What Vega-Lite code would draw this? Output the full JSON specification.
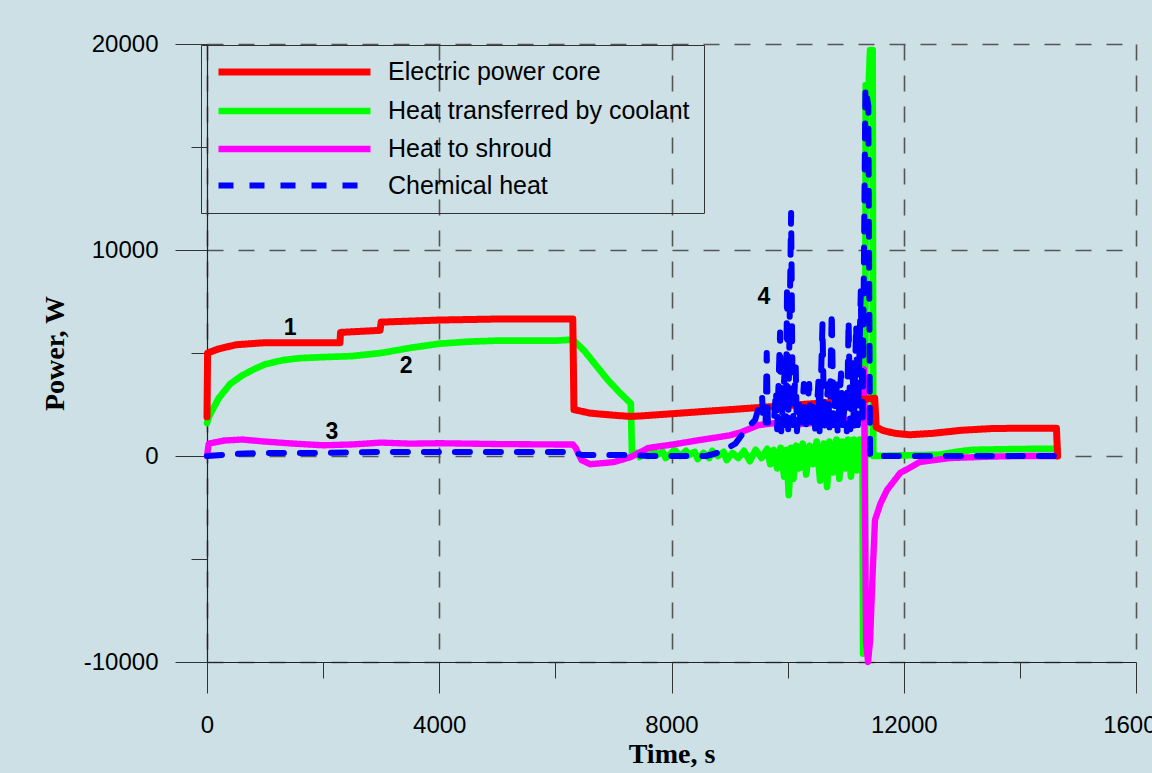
{
  "$schema": "https://vega.github.io/schema/vega-lite/v6.json",
  "width": 929,
  "height": 618,
  "autosize": {"type": "none"},
  "padding": {"left": 207, "top": 44, "right": 16, "bottom": 111},
  "background": "#cde0e6",
  "config": {
    "view": {"stroke": null},
    "font": "Liberation Sans",
    "axis": {"labelFont": "Liberation Sans", "labelColor": "#000000", "tickColor": "#333333", "domainColor": "#222222", "titleColor": "#000000"}
  },
  "datasets": {
    "lines": [
      {"series": "Heat transferred by coolant", "t": 0, "P": 1600},
      {"series": "Heat transferred by coolant", "t": 30, "P": 1900},
      {"series": "Heat transferred by coolant", "t": 200, "P": 2800},
      {"series": "Heat transferred by coolant", "t": 400, "P": 3500},
      {"series": "Heat transferred by coolant", "t": 600, "P": 3900},
      {"series": "Heat transferred by coolant", "t": 800, "P": 4200},
      {"series": "Heat transferred by coolant", "t": 1000, "P": 4450},
      {"series": "Heat transferred by coolant", "t": 1300, "P": 4650},
      {"series": "Heat transferred by coolant", "t": 1600, "P": 4750},
      {"series": "Heat transferred by coolant", "t": 2000, "P": 4800},
      {"series": "Heat transferred by coolant", "t": 2500, "P": 4850},
      {"series": "Heat transferred by coolant", "t": 3000, "P": 5000},
      {"series": "Heat transferred by coolant", "t": 3500, "P": 5250},
      {"series": "Heat transferred by coolant", "t": 4000, "P": 5450},
      {"series": "Heat transferred by coolant", "t": 4500, "P": 5550},
      {"series": "Heat transferred by coolant", "t": 5000, "P": 5600},
      {"series": "Heat transferred by coolant", "t": 5500, "P": 5600},
      {"series": "Heat transferred by coolant", "t": 6000, "P": 5600},
      {"series": "Heat transferred by coolant", "t": 6300, "P": 5650},
      {"series": "Heat transferred by coolant", "t": 6500, "P": 5100},
      {"series": "Heat transferred by coolant", "t": 6700, "P": 4400},
      {"series": "Heat transferred by coolant", "t": 6900, "P": 3700},
      {"series": "Heat transferred by coolant", "t": 7100, "P": 3100},
      {"series": "Heat transferred by coolant", "t": 7300, "P": 2550},
      {"series": "Heat transferred by coolant", "t": 7320, "P": 0},
      {"series": "Heat transferred by coolant", "t": 7400, "P": 150},
      {"series": "Heat transferred by coolant", "t": 7450, "P": -50},
      {"series": "Heat transferred by coolant", "t": 7550, "P": 200},
      {"series": "Heat transferred by coolant", "t": 7600, "P": 0},
      {"series": "Heat transferred by coolant", "t": 7700, "P": 250},
      {"series": "Heat transferred by coolant", "t": 7750, "P": 50},
      {"series": "Heat transferred by coolant", "t": 7850, "P": 200},
      {"series": "Heat transferred by coolant", "t": 7900, "P": -100},
      {"series": "Heat transferred by coolant", "t": 8000, "P": 150},
      {"series": "Heat transferred by coolant", "t": 8050, "P": 300},
      {"series": "Heat transferred by coolant", "t": 8150, "P": 0},
      {"series": "Heat transferred by coolant", "t": 8250, "P": 250},
      {"series": "Heat transferred by coolant", "t": 8300, "P": 50},
      {"series": "Heat transferred by coolant", "t": 8400, "P": 200},
      {"series": "Heat transferred by coolant", "t": 8450, "P": -150},
      {"series": "Heat transferred by coolant", "t": 8550, "P": 150},
      {"series": "Heat transferred by coolant", "t": 8650, "P": -100},
      {"series": "Heat transferred by coolant", "t": 8700, "P": 250},
      {"series": "Heat transferred by coolant", "t": 8800, "P": 0},
      {"series": "Heat transferred by coolant", "t": 8900, "P": 200},
      {"series": "Heat transferred by coolant", "t": 8950, "P": -200},
      {"series": "Heat transferred by coolant", "t": 9050, "P": 150},
      {"series": "Heat transferred by coolant", "t": 9150, "P": -100},
      {"series": "Heat transferred by coolant", "t": 9250, "P": 250},
      {"series": "Heat transferred by coolant", "t": 9350, "P": -250},
      {"series": "Heat transferred by coolant", "t": 9450, "P": 300},
      {"series": "Heat transferred by coolant", "t": 9550, "P": -100},
      {"series": "Heat transferred by coolant", "t": 9650, "P": 350},
      {"series": "Heat transferred by coolant", "t": 9700, "P": -400},
      {"series": "Heat transferred by coolant", "t": 9760, "P": 300},
      {"series": "Heat transferred by coolant", "t": 9820, "P": -600},
      {"series": "Heat transferred by coolant", "t": 9880, "P": 400},
      {"series": "Heat transferred by coolant", "t": 9940, "P": -1000},
      {"series": "Heat transferred by coolant", "t": 9980, "P": 300},
      {"series": "Heat transferred by coolant", "t": 10020, "P": -1900},
      {"series": "Heat transferred by coolant", "t": 10060, "P": 400},
      {"series": "Heat transferred by coolant", "t": 10100, "P": -1100},
      {"series": "Heat transferred by coolant", "t": 10150, "P": 500},
      {"series": "Heat transferred by coolant", "t": 10200, "P": -600},
      {"series": "Heat transferred by coolant", "t": 10260, "P": 600},
      {"series": "Heat transferred by coolant", "t": 10320, "P": -900},
      {"series": "Heat transferred by coolant", "t": 10380, "P": 500},
      {"series": "Heat transferred by coolant", "t": 10440, "P": -400},
      {"series": "Heat transferred by coolant", "t": 10500, "P": 700},
      {"series": "Heat transferred by coolant", "t": 10560, "P": -1200},
      {"series": "Heat transferred by coolant", "t": 10620, "P": 600},
      {"series": "Heat transferred by coolant", "t": 10680, "P": -1500},
      {"series": "Heat transferred by coolant", "t": 10720, "P": 700},
      {"series": "Heat transferred by coolant", "t": 10780, "P": -800},
      {"series": "Heat transferred by coolant", "t": 10840, "P": 800},
      {"series": "Heat transferred by coolant", "t": 10890, "P": -1100},
      {"series": "Heat transferred by coolant", "t": 10940, "P": 700},
      {"series": "Heat transferred by coolant", "t": 10990, "P": -600},
      {"series": "Heat transferred by coolant", "t": 11040, "P": 800},
      {"series": "Heat transferred by coolant", "t": 11090, "P": -1000},
      {"series": "Heat transferred by coolant", "t": 11140, "P": 800},
      {"series": "Heat transferred by coolant", "t": 11190, "P": -700},
      {"series": "Heat transferred by coolant", "t": 11240, "P": 800},
      {"series": "Heat transferred by coolant", "t": 11290, "P": -300},
      {"series": "Heat transferred by coolant", "t": 11300, "P": -9600},
      {"series": "Heat transferred by coolant", "t": 11330, "P": -9400},
      {"series": "Heat transferred by coolant", "t": 11345, "P": 18000},
      {"series": "Heat transferred by coolant", "t": 11390, "P": 17500},
      {"series": "Heat transferred by coolant", "t": 11420, "P": 19700},
      {"series": "Heat transferred by coolant", "t": 11465, "P": 19700},
      {"series": "Heat transferred by coolant", "t": 11475, "P": 0},
      {"series": "Heat transferred by coolant", "t": 12000, "P": 30},
      {"series": "Heat transferred by coolant", "t": 12600, "P": 60},
      {"series": "Heat transferred by coolant", "t": 12900, "P": 200},
      {"series": "Heat transferred by coolant", "t": 13200, "P": 300},
      {"series": "Heat transferred by coolant", "t": 14000, "P": 340},
      {"series": "Heat transferred by coolant", "t": 14650, "P": 350},

      {"series": "Heat to shroud", "t": 0, "P": 0},
      {"series": "Heat to shroud", "t": 30, "P": 600},
      {"series": "Heat to shroud", "t": 300, "P": 750},
      {"series": "Heat to shroud", "t": 600, "P": 800},
      {"series": "Heat to shroud", "t": 1000, "P": 700},
      {"series": "Heat to shroud", "t": 1500, "P": 600},
      {"series": "Heat to shroud", "t": 2000, "P": 520},
      {"series": "Heat to shroud", "t": 2500, "P": 560},
      {"series": "Heat to shroud", "t": 3000, "P": 650},
      {"series": "Heat to shroud", "t": 3500, "P": 600},
      {"series": "Heat to shroud", "t": 4000, "P": 620},
      {"series": "Heat to shroud", "t": 5000, "P": 580},
      {"series": "Heat to shroud", "t": 6000, "P": 560},
      {"series": "Heat to shroud", "t": 6300, "P": 560},
      {"series": "Heat to shroud", "t": 6350, "P": 400},
      {"series": "Heat to shroud", "t": 6450, "P": -200},
      {"series": "Heat to shroud", "t": 6600, "P": -400},
      {"series": "Heat to shroud", "t": 7000, "P": -300},
      {"series": "Heat to shroud", "t": 7300, "P": -50},
      {"series": "Heat to shroud", "t": 7600, "P": 390},
      {"series": "Heat to shroud", "t": 8000, "P": 550},
      {"series": "Heat to shroud", "t": 8500, "P": 780},
      {"series": "Heat to shroud", "t": 9000, "P": 1000},
      {"series": "Heat to shroud", "t": 9200, "P": 1160},
      {"series": "Heat to shroud", "t": 9500, "P": 1500},
      {"series": "Heat to shroud", "t": 9800, "P": 1600},
      {"series": "Heat to shroud", "t": 10200, "P": 1550},
      {"series": "Heat to shroud", "t": 10700, "P": 1650},
      {"series": "Heat to shroud", "t": 11000, "P": 1750},
      {"series": "Heat to shroud", "t": 11290, "P": 1800},
      {"series": "Heat to shroud", "t": 11315, "P": 4200},
      {"series": "Heat to shroud", "t": 11350, "P": -9000},
      {"series": "Heat to shroud", "t": 11385, "P": -10000},
      {"series": "Heat to shroud", "t": 11420, "P": -9000},
      {"series": "Heat to shroud", "t": 11460, "P": -6000},
      {"series": "Heat to shroud", "t": 11505, "P": -3100},
      {"series": "Heat to shroud", "t": 11600, "P": -2300},
      {"series": "Heat to shroud", "t": 11712, "P": -1650},
      {"series": "Heat to shroud", "t": 11936, "P": -830},
      {"series": "Heat to shroud", "t": 12280, "P": -290},
      {"series": "Heat to shroud", "t": 12800, "P": -100},
      {"series": "Heat to shroud", "t": 13500, "P": -30},
      {"series": "Heat to shroud", "t": 14000, "P": 0},
      {"series": "Heat to shroud", "t": 14650, "P": 0},

      {"series": "Electric power core", "t": 0, "P": 1900},
      {"series": "Electric power core", "t": 10, "P": 5000},
      {"series": "Electric power core", "t": 200, "P": 5200},
      {"series": "Electric power core", "t": 500, "P": 5400},
      {"series": "Electric power core", "t": 1000, "P": 5500},
      {"series": "Electric power core", "t": 2290, "P": 5500},
      {"series": "Electric power core", "t": 2300, "P": 6000},
      {"series": "Electric power core", "t": 2980, "P": 6100},
      {"series": "Electric power core", "t": 3000, "P": 6500},
      {"series": "Electric power core", "t": 4000, "P": 6600},
      {"series": "Electric power core", "t": 5000, "P": 6650},
      {"series": "Electric power core", "t": 6300, "P": 6650},
      {"series": "Electric power core", "t": 6320, "P": 2250},
      {"series": "Electric power core", "t": 6600, "P": 2080},
      {"series": "Electric power core", "t": 7000, "P": 1980},
      {"series": "Electric power core", "t": 7300, "P": 1920},
      {"series": "Electric power core", "t": 7500, "P": 1950},
      {"series": "Electric power core", "t": 8000, "P": 2050},
      {"series": "Electric power core", "t": 9000, "P": 2250},
      {"series": "Electric power core", "t": 10000, "P": 2450},
      {"series": "Electric power core", "t": 11000, "P": 2650},
      {"series": "Electric power core", "t": 11300, "P": 2750},
      {"series": "Electric power core", "t": 11500, "P": 2800},
      {"series": "Electric power core", "t": 11525, "P": 1400},
      {"series": "Electric power core", "t": 11650, "P": 1230},
      {"series": "Electric power core", "t": 11850, "P": 1100},
      {"series": "Electric power core", "t": 12100, "P": 1030},
      {"series": "Electric power core", "t": 12500, "P": 1100},
      {"series": "Electric power core", "t": 13000, "P": 1250},
      {"series": "Electric power core", "t": 13500, "P": 1330},
      {"series": "Electric power core", "t": 14000, "P": 1350},
      {"series": "Electric power core", "t": 14630, "P": 1350},
      {"series": "Electric power core", "t": 14650, "P": 0},

      {"series": "Chemical heat", "t": 0, "P": 0},
      {"series": "Chemical heat", "t": 500, "P": 100},
      {"series": "Chemical heat", "t": 1000, "P": 150},
      {"series": "Chemical heat", "t": 2000, "P": 150},
      {"series": "Chemical heat", "t": 3000, "P": 200},
      {"series": "Chemical heat", "t": 4000, "P": 200},
      {"series": "Chemical heat", "t": 5000, "P": 200},
      {"series": "Chemical heat", "t": 6300, "P": 200},
      {"series": "Chemical heat", "t": 6450, "P": 50},
      {"series": "Chemical heat", "t": 7300, "P": 50},
      {"series": "Chemical heat", "t": 7600, "P": 0},
      {"series": "Chemical heat", "t": 8600, "P": 0},
      {"series": "Chemical heat", "t": 8850, "P": 200},
      {"series": "Chemical heat", "t": 9100, "P": 600},
      {"series": "Chemical heat", "t": 9270, "P": 1250},
      {"series": "Chemical heat", "t": 9440, "P": 1750},
      {"series": "Chemical heat", "t": 9560, "P": 2900},
      {"series": "Chemical heat", "t": 9580, "P": 1600},
      {"series": "Chemical heat", "t": 9620, "P": 1500},
      {"series": "Chemical heat", "t": 9640, "P": 5000},
      {"series": "Chemical heat", "t": 9660, "P": 1600},
      {"series": "Chemical heat", "t": 9760, "P": 1500},
      {"series": "Chemical heat", "t": 9800, "P": 3200},
      {"series": "Chemical heat", "t": 9820, "P": 1300},
      {"series": "Chemical heat", "t": 9870, "P": 6000},
      {"series": "Chemical heat", "t": 9890, "P": 1200},
      {"series": "Chemical heat", "t": 9950, "P": 4200},
      {"series": "Chemical heat", "t": 9970, "P": 1500},
      {"series": "Chemical heat", "t": 9990, "P": 8300},
      {"series": "Chemical heat", "t": 10010, "P": 1300},
      {"series": "Chemical heat", "t": 10060, "P": 11800},
      {"series": "Chemical heat", "t": 10090, "P": 1500},
      {"series": "Chemical heat", "t": 10140, "P": 4300},
      {"series": "Chemical heat", "t": 10160, "P": 1200},
      {"series": "Chemical heat", "t": 10200, "P": 2500},
      {"series": "Chemical heat", "t": 10230, "P": 1300},
      {"series": "Chemical heat", "t": 10280, "P": 3500},
      {"series": "Chemical heat", "t": 10310, "P": 1200},
      {"series": "Chemical heat", "t": 10370, "P": 3500},
      {"series": "Chemical heat", "t": 10400, "P": 1300},
      {"series": "Chemical heat", "t": 10450, "P": 2600},
      {"series": "Chemical heat", "t": 10480, "P": 1000},
      {"series": "Chemical heat", "t": 10530, "P": 3600},
      {"series": "Chemical heat", "t": 10550, "P": 1200},
      {"series": "Chemical heat", "t": 10600, "P": 6400},
      {"series": "Chemical heat", "t": 10630, "P": 1300},
      {"series": "Chemical heat", "t": 10700, "P": 3500},
      {"series": "Chemical heat", "t": 10720, "P": 1200},
      {"series": "Chemical heat", "t": 10760, "P": 7000},
      {"series": "Chemical heat", "t": 10790, "P": 1500},
      {"series": "Chemical heat", "t": 10840, "P": 3700},
      {"series": "Chemical heat", "t": 10860, "P": 1200},
      {"series": "Chemical heat", "t": 10920, "P": 4000},
      {"series": "Chemical heat", "t": 10950, "P": 1500},
      {"series": "Chemical heat", "t": 11000, "P": 3000},
      {"series": "Chemical heat", "t": 11020, "P": 1200},
      {"series": "Chemical heat", "t": 11050, "P": 6600},
      {"series": "Chemical heat", "t": 11080, "P": 1300},
      {"series": "Chemical heat", "t": 11120, "P": 4500},
      {"series": "Chemical heat", "t": 11140, "P": 1400},
      {"series": "Chemical heat", "t": 11180, "P": 6400},
      {"series": "Chemical heat", "t": 11210, "P": 1500},
      {"series": "Chemical heat", "t": 11260, "P": 8000},
      {"series": "Chemical heat", "t": 11290, "P": 1500},
      {"series": "Chemical heat", "t": 11340, "P": 17900},
      {"series": "Chemical heat", "t": 11390, "P": 17000},
      {"series": "Chemical heat", "t": 11420, "P": 0},
      {"series": "Chemical heat", "t": 12000, "P": 0},
      {"series": "Chemical heat", "t": 14650, "P": 0}
    ],
    "labels": [
      {"t": 1430, "P": 6210, "label": "1"},
      {"t": 3430, "P": 4370, "label": "2"},
      {"t": 2150, "P": 1165, "label": "3"},
      {"t": 9590, "P": 7720, "label": "4"}
    ]
  },
  "layer": [
    {
      "data": {"name": "lines"},
      "mark": {"type": "line", "strokeCap": "round", "strokeJoin": "round"},
      "encoding": {
        "x": {
          "field": "t", "type": "quantitative",
          "scale": {"domain": [0, 16000], "nice": false, "zero": false},
          "axis": {
            "orient": "bottom", "values": [0, 4000, 8000, 12000, 16000],
            "tickSize": 31, "tickWidth": 1, "labelFontSize": 24, "labelPadding": 20,
            "labelFlush": false, "labelBound": false, "labelOverlap": false,
            "labelExpr": "'' + datum.value",
            "domain": true, "domainWidth": 1.2,
            "grid": true, "gridDash": [16, 15], "gridColor": "#555555", "gridWidth": 1.6,
            "title": "Time, s", "titleFont": "Liberation Serif", "titleFontSize": 28, "titleFontWeight": "bold", "titlePadding": 3
          }
        },
        "y": {
          "field": "P", "type": "quantitative",
          "scale": {"domain": [-10000, 20000], "nice": false, "zero": false},
          "axis": {
            "orient": "left", "values": [-10000, 0, 10000, 20000],
            "tickSize": 32, "tickWidth": 1, "labelFontSize": 24, "labelPadding": 17,
            "labelOverlap": false, "labelBound": false, "labelFlush": false,
            "labelExpr": "'' + datum.value",
            "domain": true, "domainWidth": 1.2,
            "grid": true, "gridDash": [16, 15], "gridColor": "#555555", "gridWidth": 1.6,
            "title": "Power, W", "titleFont": "Liberation Serif", "titleFontSize": 28, "titleFontWeight": "bold", "titlePadding": 14
          }
        },
        "color": {
          "field": "series", "type": "nominal",
          "scale": {"domain": ["Electric power core", "Heat transferred by coolant", "Heat to shroud", "Chemical heat"], "range": ["#ff0000", "#00ff00", "#ff00ff", "#0000ff"]},
          "legend": {
            "orient": "none", "legendX": -6, "legendY": 1, "title": null,
            "symbolType": "M-1,0H15", "symbolSize": 361,
            "labelFontSize": 25, "labelFont": "Liberation Sans", "labelColor": "#000000", "labelLimit": 0,
            "labelOffset": 147, "padding": 14, "rowPadding": 11,
            "strokeColor": "#333333", "fillColor": null
          }
        },
        "strokeWidth": {
          "field": "series", "type": "nominal",
          "scale": {"domain": ["Electric power core", "Heat transferred by coolant", "Heat to shroud", "Chemical heat"], "range": [7, 6, 7, 3.2]}
        },
        "strokeDash": {
          "field": "series", "type": "nominal",
          "scale": {"domain": ["Electric power core", "Heat transferred by coolant", "Heat to shroud", "Chemical heat"], "range": [[1, 0], [1, 0], [1, 0], [15, 16]]}
        }
      }
    },
    {
      "data": {"name": "labels"},
      "mark": {"type": "text", "font": "Liberation Sans", "fontWeight": "bold", "fontSize": 23, "color": "#000000", "align": "center", "baseline": "middle"},
      "encoding": {
        "x": {
          "field": "t", "type": "quantitative",
          "axis": {"orient": "bottom", "values": [2000, 6000, 10000, 14000], "tickSize": 16, "tickWidth": 1, "labels": false, "domain": false, "grid": false, "title": null}
        },
        "y": {
          "field": "P", "type": "quantitative",
          "axis": {"orient": "left", "values": [15000, 5000, -5000], "tickSize": 16, "tickWidth": 1, "labels": false, "domain": false, "grid": false, "title": null}
        },
        "text": {"field": "label"}
      }
    }
  ],
  "resolve": {"axis": {"x": "independent", "y": "independent"}}
}
